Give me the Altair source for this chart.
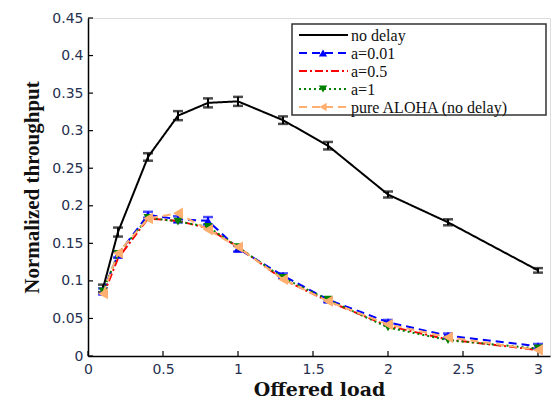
import altair as alt
import pandas as pd

# ---- data ----
load = [0.1, 0.2, 0.4, 0.6, 0.8, 1.0, 1.3, 1.6, 2.0, 2.4, 3.0]
no_delay = [0.090, 0.165, 0.265, 0.320, 0.337, 0.339, 0.314, 0.280, 0.215, 0.178, 0.114]
no_delay_err = [0.005, 0.006, 0.005, 0.006, 0.006, 0.006, 0.005, 0.005, 0.004, 0.004, 0.003]
a001 = [0.086, 0.135, 0.188, 0.182, 0.180, 0.143, 0.107, 0.075, 0.045, 0.027, 0.013]
a001_err = [0.004, 0.004, 0.004, 0.004, 0.005, 0.004, 0.003, 0.003, 0.003, 0.003, 0.003]
a05 = [0.080, 0.130, 0.183, 0.180, 0.170, 0.145, 0.102, 0.073, 0.040, 0.022, 0.008]
a1 = [0.086, 0.136, 0.184, 0.179, 0.172, 0.145, 0.104, 0.075, 0.038, 0.021, 0.010]
aloha = [0.083, 0.137, 0.183, 0.190, 0.168, 0.145, 0.102, 0.073, 0.042, 0.025, 0.008]

series_names = ["no delay", "a=0.01", "a=0.5", "a=1", "pure ALOHA (no delay)"]
series_values = [no_delay, a001, a05, a1, aloha]
series_colors = ["#000000", "#0000ff", "#ff0000", "#008000", "#ffb070"]
series_dash = [[1, 0], [8, 5], [8, 3, 2, 3], [2, 3], [8, 5]]
series_shape = [None, "triangle-up", None, "triangle-down", "triangle-left"]
series_size = [0, 80, 0, 80, 130]

x_ticks = [0, 0.5, 1, 1.5, 2, 2.5, 3]
y_ticks = [0, 0.05, 0.1, 0.15, 0.2, 0.25, 0.3, 0.35, 0.4, 0.45]

W, H = 462, 338
xs = alt.Scale(domain=[0, 3.08], nice=False, zero=False)
ys = alt.Scale(domain=[0, 0.45], nice=False)

lab_col = "#263050"
xaxis = alt.Axis(values=x_ticks, ticks=False, grid=False, format="~g",
                 title="Offered load", titleFont="DejaVu Serif", titleFontSize=19,
                 titleFontWeight="bold", titleColor="#111", titlePadding=4,
                 labelFont="DejaVu Sans", labelFontSize=14, labelColor=lab_col,
                 labelPadding=6, domainColor="#000", domainWidth=1.5, labelFlush=False,
                 labelOverlap=False)
yaxis = alt.Axis(values=y_ticks, ticks=False, grid=False, format=".2~f",
                 title="Normalized throughput", titleFont="Liberation Serif",
                 titleFontSize=21, titleFontWeight="bold", titleColor="#111",
                 titlePadding=9, labelFont="DejaVu Sans", labelFontSize=14,
                 labelColor=lab_col, labelPadding=5, domainColor="#000",
                 domainWidth=1.5, labelFlush=False, labelOverlap=False)


def X(f):
    return alt.X(f, scale=xs, axis=xaxis)


def Y(f):
    return alt.Y(f, scale=ys, axis=yaxis)


layers = []

# inward ticks
layers.append(alt.Chart(pd.DataFrame({"t": y_ticks})).mark_rule(color="#000", strokeWidth=1.2).encode(
    y=Y("t:Q"), x=alt.value(0), x2=alt.value(5)))
layers.append(alt.Chart(pd.DataFrame({"t": x_ticks})).mark_rule(color="#000", strokeWidth=1.2).encode(
    x=X("t:Q"), y=alt.value(H), y2=alt.value(H - 5)))

# error bars
for vals, errs, col in [(no_delay, no_delay_err, "#000000"), (a001, a001_err, "#0000ff")]:
    edf = pd.DataFrame({"load": load, "lo": [v - e for v, e in zip(vals, errs)],
                        "hi": [v + e for v, e in zip(vals, errs)]})
    layers.append(alt.Chart(edf).mark_rule(color=col, strokeWidth=2).encode(
        x=X("load:Q"), y=Y("lo:Q"), y2="hi:Q"))
    for f in ["lo", "hi"]:
        layers.append(alt.Chart(edf).mark_tick(color=col, orient="horizontal", size=10,
                                               thickness=2.5).encode(
            x=X("load:Q"), y=Y(f + ":Q")))

# series lines and markers
for name, vals, col, dash, shp, sz in zip(series_names, series_values, series_colors,
                                          series_dash, series_shape, series_size):
    df = pd.DataFrame({"load": load, "v": vals})
    layers.append(alt.Chart(df).mark_line(color=col, strokeDash=dash, strokeWidth=2).encode(
        x=X("load:Q"), y=Y("v:Q")))
    if shp:
        layers.append(alt.Chart(df).mark_point(shape=shp, filled=True, color=col, size=sz,
                                               opacity=1).encode(
            x=X("load:Q"), y=Y("v:Q")))

# legend box
one = pd.DataFrame({"a": [0]})
layers.append(alt.Chart(one).mark_rect(fill="white", stroke="#333", strokeWidth=1.5).encode(
    x=alt.value(204), x2=alt.value(458), y=alt.value(6), y2=alt.value(97)))
for i, (name, col, dash, shp) in enumerate(zip(series_names, series_colors, series_dash,
                                               series_shape)):
    yy = 17 + 18 * i
    layers.append(alt.Chart(one).mark_rule(color=col, strokeDash=dash, strokeWidth=2).encode(
        x=alt.value(211), x2=alt.value(260), y=alt.value(yy)))
    if shp:
        layers.append(alt.Chart(one).mark_point(shape=shp, filled=True, color=col, size=70,
                                                opacity=1).encode(
            x=alt.value(235), y=alt.value(yy)))
    layers.append(alt.Chart(pd.DataFrame({"label": [name]})).mark_text(
        align="left", baseline="middle", font="Liberation Serif", fontSize=16,
        color="#111").encode(text="label:N", x=alt.value(263), y=alt.value(yy + 1)))

chart = alt.layer(*layers).properties(
    width=W, height=H,
    autosize=alt.AutoSizeParams(type="none"),
    padding={"left": 88, "top": 18, "right": 2, "bottom": 42},
).configure_view(stroke=None).configure(background="white")

chart.save("out.html", embed_options={"renderer": "svg", "actions": False})
